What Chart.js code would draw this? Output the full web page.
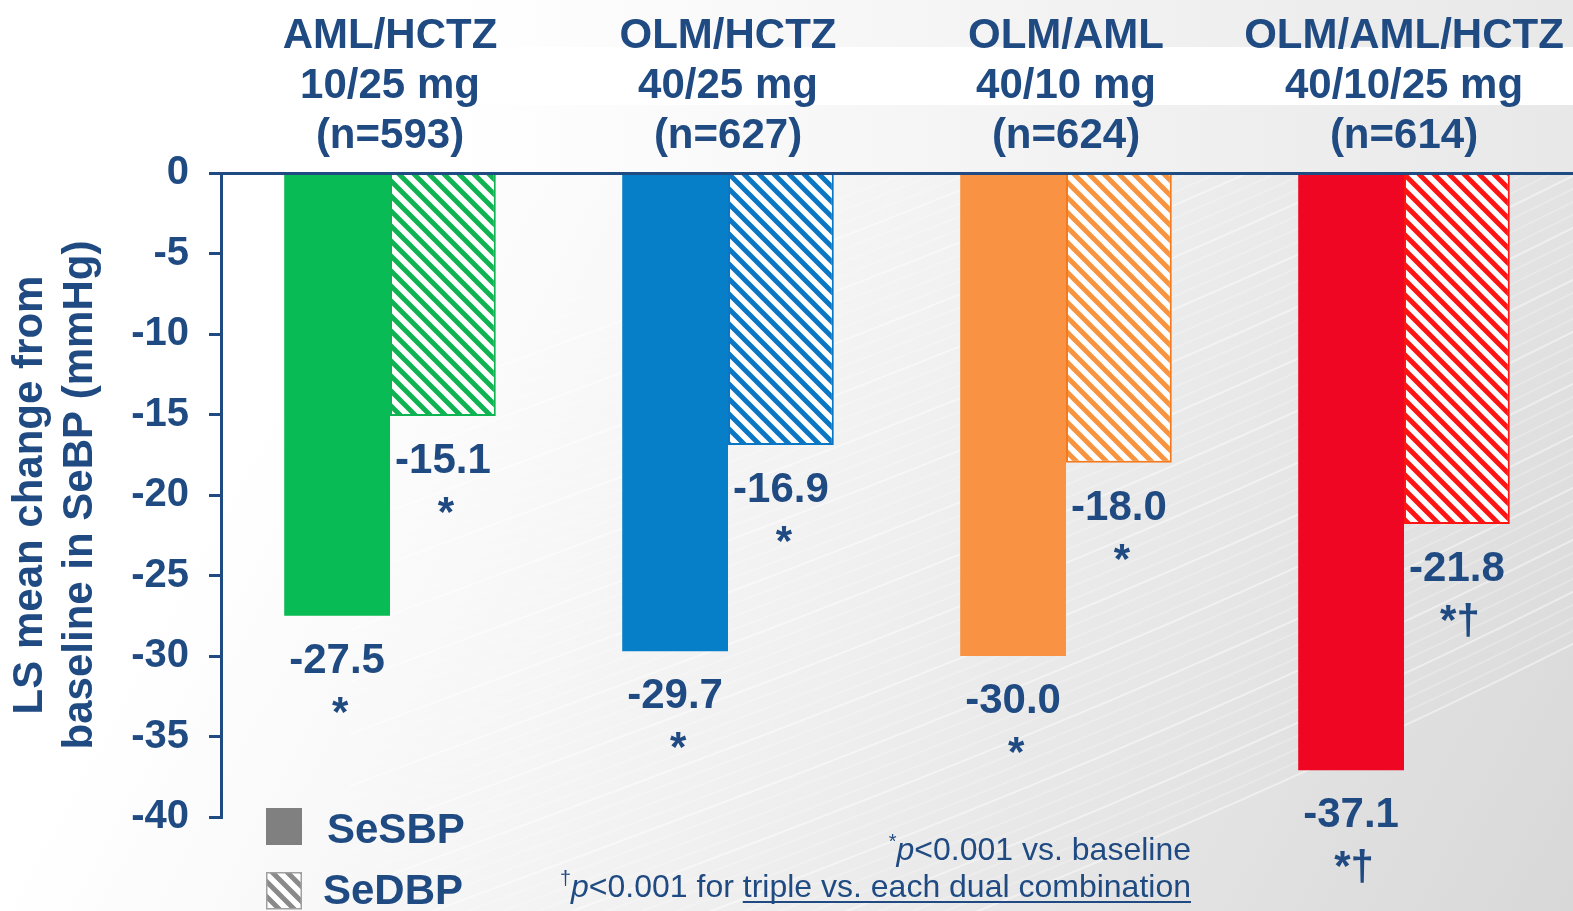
<!DOCTYPE html>
<html>
<head>
<meta charset="utf-8">
<title>LS mean change from baseline in SeBP</title>
<script src="https://cdn.jsdelivr.net/npm/chart.js@4.4.1/dist/chart.umd.min.js"></script>
<style>
  html, body { margin: 0; padding: 0; background: #ffffff; }
  #wrap { width: 1573px; height: 911px; position: relative; overflow: hidden; }
  canvas { display: block; }
</style>
</head>
<body>
<div id="wrap"><canvas id="chart" width="1573" height="911"></canvas></div>
<script>
// ---- data ----
const categories = [
  ["AML/HCTZ", "10/25 mg", "(n=593)"],
  ["OLM/HCTZ", "40/25 mg", "(n=627)"],
  ["OLM/AML", "40/10 mg", "(n=624)"],
  ["OLM/AML/HCTZ", "40/10/25 mg", "(n=614)"]
];
const seriesNames = ["SeSBP", "SeDBP"];
const seSBP = [-27.5, -29.7, -30.0, -37.1];
const seDBP = [-15.1, -16.9, -18.0, -21.8];
const sbpMarks = ["*", "*", "*", "*†"];
const dbpMarks = ["*", "*", "*", "*†"];
const yMin = -40, yMax = 0, yStep = 5;
const yTitle = ["LS mean change from", "baseline in SeBP (mmHg)"];
const footnote1 = [["*", "sup"], ["p", "italic"], ["<0.001 vs. baseline", ""]];
const footnote2 = [["†", "sup"], ["p", "italic"], ["<0.001 for ", ""], ["triple vs. each dual combination", "underline"]];

// ---- styling ----
const FONT = '"Liberation Sans", Arial, Helvetica, sans-serif';
const NAVY = '#1F4A82';
const solidColors = ['#09BB54', '#067FC8', '#F99242', '#EE0623'];
const stripeColors = ['#10B352', '#0A76C4', '#F8943F', '#FF1414'];
const stripeBorders = ['#10B352', '#0A76C4', '#F47A1F', '#FF1414'];

function stripePattern(color) {
  const s = 15;
  const c = document.createElement('canvas');
  c.width = s; c.height = s;
  const g = c.getContext('2d');
  g.fillStyle = '#ffffff';
  g.fillRect(0, 0, s, s);
  g.strokeStyle = color;
  g.lineWidth = 5;
  g.beginPath();
  for (const k of [-s, 0, s]) {
    g.moveTo(k - 2, -2);
    g.lineTo(k + s + 2, s + 2);
  }
  g.stroke();
  return g.createPattern(c, 'repeat');
}

// page background: white fading to light grey toward the lower right, banded header
const backdrop = {
  id: 'backdrop',
  beforeDraw(chart) {
    const { ctx, width, height } = chart;
    ctx.save();
    const grad = ctx.createLinearGradient(350, 250, width, height);
    grad.addColorStop(0, '#ffffff');
    grad.addColorStop(0.4, '#f1f1f1');
    grad.addColorStop(1, '#d8d8d8');
    ctx.fillStyle = grad;
    ctx.fillRect(0, 0, width, height);

    // faint sweeping streaks
    ctx.lineWidth = 2;
    for (let i = 0; i < 60; i++) {
      const dy = i * 13;
      ctx.strokeStyle = 'rgba(255,255,255,' + (i % 4 === 0 ? 0.45 : 0.22) + ')';
      ctx.beginPath();
      ctx.moveTo(350, 1150 - dy);
      ctx.bezierCurveTo(750, 1000 - dy, 1150, 860 - dy, 1620, 620 - dy);
      ctx.stroke();
    }

    ctx.fillStyle = '#ffffff';
    ctx.fillRect(0, 0, width, 172);
    const band = ctx.createLinearGradient(450, 0, width, 0);
    band.addColorStop(0, 'rgba(228,228,228,0)');
    band.addColorStop(1, 'rgba(228,228,228,0.85)');
    ctx.fillStyle = band;
    ctx.fillRect(0, 0, width, 47);
    ctx.fillRect(0, 105, width, 67);
    ctx.restore();
  }
};

function drawRuns(ctx, runs, rightX, baseY, size) {
  const fontFor = (style) => {
    if (style === 'sup') return (size * 0.62).toFixed(1) + 'px ' + FONT;
    if (style === 'italic') return 'italic ' + size + 'px ' + FONT;
    return size + 'px ' + FONT;
  };
  let total = 0;
  const widths = runs.map(([t, st]) => { ctx.font = fontFor(st); const w = ctx.measureText(t).width; total += w; return w; });
  let x = rightX - total;
  runs.forEach(([t, st], i) => {
    ctx.font = fontFor(st);
    const y = st === 'sup' ? baseY - size * 0.36 : baseY;
    ctx.fillText(t, x, y);
    if (st === 'underline') {
      ctx.fillRect(x, baseY + 4, widths[i], 2);
    }
    x += widths[i];
  });
}

// value labels under the bars, legend and footnotes
const annotate = {
  id: 'annotate',
  afterDatasetsDraw(chart) {
    const ctx = chart.ctx;
    ctx.save();
    ctx.fillStyle = NAVY;
    ctx.textAlign = 'center';
    ctx.textBaseline = 'alphabetic';
    ctx.font = 'bold 42px ' + FONT;
    const marks = [sbpMarks, dbpMarks];
    chart.data.datasets.forEach((ds, di) => {
      chart.getDatasetMeta(di).data.forEach((bar, i) => {
        ctx.fillText(ds.data[i].toFixed(1), bar.x, bar.y + 57);
        ctx.fillText(marks[di][i], bar.x + 3, bar.y + 110);
      });
    });

    // legend
    ctx.textAlign = 'left';
    ctx.fillStyle = '#808080';
    ctx.fillRect(266, 808, 36, 37);
    ctx.fillStyle = stripePattern('#8a8a8a');
    ctx.fillRect(266, 872, 36, 37);
    ctx.strokeStyle = '#a0a0a0';
    ctx.lineWidth = 1.5;
    ctx.strokeRect(266.75, 872.75, 34.5, 36);
    ctx.fillStyle = NAVY;
    ctx.font = 'bold 42px ' + FONT;
    ctx.fillText(seriesNames[0], 327, 843);
    ctx.fillText(seriesNames[1], 323, 904);

    // footnotes
    ctx.textAlign = 'left';
    drawRuns(ctx, footnote1, 1191, 860, 32);
    drawRuns(ctx, footnote2, 1191, 897, 32);
    ctx.restore();
  }
};

const ctx = document.getElementById('chart').getContext('2d');
new Chart(ctx, {
  type: 'bar',
  data: {
    labels: categories,
    datasets: [
      {
        label: seriesNames[0],
        data: seSBP,
        backgroundColor: solidColors,
        borderWidth: 0,
        categoryPercentage: 0.626,
        barPercentage: 1.0
      },
      {
        label: seriesNames[1],
        data: seDBP,
        backgroundColor: stripeColors.map(stripePattern),
        borderColor: stripeBorders,
        borderWidth: 2,
        borderSkipped: 'start',
        categoryPercentage: 0.626,
        barPercentage: 1.0
      }
    ]
  },
  options: {
    responsive: false,
    animation: false,
    devicePixelRatio: 1,
    layout: { padding: { left: 0, top: 0, right: 0, bottom: 94 } },
    plugins: {
      legend: { display: false },
      tooltip: { enabled: false }
    },
    scales: {
      x: {
        position: 'top',
        offset: true,
        grid: { display: false },
        border: { display: true, color: NAVY, width: 3, z: 1 },
        ticks: {
          color: NAVY,
          padding: 3,
          maxRotation: 0,
          autoSkip: false,
          font: { family: FONT, size: 42, weight: 'bold', lineHeight: 1.2 }
        },
        afterFit(scale) {
          scale.height = 173;
          scale.paddingLeft = 0;
          scale.paddingRight = 0;
        }
      },
      y: {
        min: yMin,
        max: yMax,
        grid: {
          display: true,
          drawOnChartArea: false,
          drawTicks: true,
          tickLength: 12,
          color: NAVY,
          lineWidth: 3
        },
        border: { display: true, color: NAVY, width: 3, z: 1 },
        ticks: {
          stepSize: yStep,
          color: NAVY,
          padding: 20,
          font: { family: FONT, size: 40, weight: 'bold' }
        },
        title: {
          display: true,
          text: yTitle,
          color: NAVY,
          padding: { top: 5, bottom: 0 },
          font: { family: FONT, size: 42, weight: 'bold', lineHeight: 1.2 }
        },
        afterFit(scale) {
          scale.width = 221;
          scale.paddingTop = 0;
          scale.paddingBottom = 0;
        }
      }
    }
  },
  plugins: [backdrop, annotate]
});
</script>
</body>
</html>
